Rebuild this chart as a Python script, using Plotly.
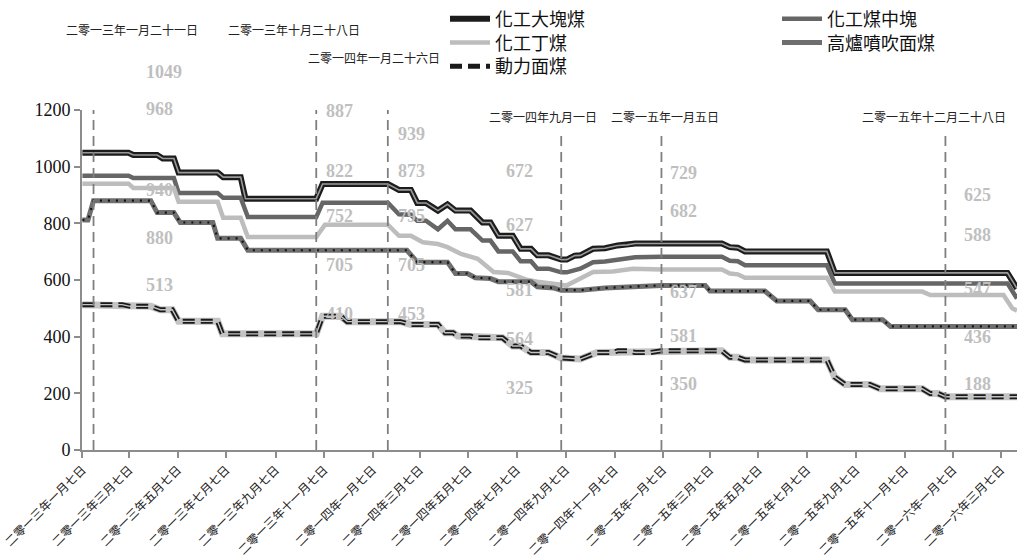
import plotly.graph_objects as go

# ---- price series (yuan / ton) ----
lump_dates = ["2013-01-07", "2013-01-21", "2013-03-06", "2013-03-12", "2013-04-11", "2013-04-18", "2013-05-02",
              "2013-05-08", "2013-06-26", "2013-07-03", "2013-07-25", "2013-07-31", "2013-10-28", "2013-11-05",
              "2014-01-26", "2014-02-09", "2014-02-24", "2014-03-04", "2014-03-15", "2014-03-30", "2014-04-11",
              "2014-04-21", "2014-05-10", "2014-05-25", "2014-06-04", "2014-06-14", "2014-07-02", "2014-07-12",
              "2014-07-25", "2014-08-02", "2014-08-16", "2014-09-01", "2014-09-08", "2014-09-18", "2014-09-25",
              "2014-10-11", "2014-10-26", "2014-11-11", "2014-11-23", "2014-12-03", "2015-01-05", "2015-03-22",
              "2015-04-01", "2015-04-11", "2015-04-20", "2015-08-01", "2015-08-11", "2015-12-28", "2016-03-15",
              "2016-03-27"]
lump_vals = [1049, 1049, 1049, 1041, 1041, 1029, 1029,
             979, 979, 963, 963, 887, 887, 939,
             939, 918, 918, 872, 872, 845, 867,
             845, 845, 803, 803, 756, 756, 710,
             710, 687, 687, 672, 672, 686, 687,
             710, 712, 722, 724, 729, 729, 729,
             716, 714, 701, 701, 625, 625, 625,
             570]

mid_dates = ["2013-01-07", "2013-01-21", "2013-03-06", "2013-03-12", "2013-05-02", "2013-05-08", "2013-06-26",
             "2013-07-03", "2013-07-25", "2013-08-03", "2013-10-28", "2013-11-05", "2014-01-26", "2014-02-09",
             "2014-02-24", "2014-03-04", "2014-03-15", "2014-03-30", "2014-04-11", "2014-04-21", "2014-05-10",
             "2014-05-25", "2014-06-04", "2014-06-14", "2014-07-02", "2014-07-12", "2014-07-25", "2014-08-02",
             "2014-08-16", "2014-09-01", "2014-09-08", "2014-09-25", "2014-10-11", "2014-10-26", "2014-11-11",
             "2014-11-23", "2014-12-03", "2015-01-05", "2015-03-22", "2015-04-01", "2015-04-11", "2015-04-20",
             "2015-08-01", "2015-08-11", "2015-12-28", "2016-03-15", "2016-03-27"]
mid_vals = [968, 968, 968, 960, 960, 907, 907,
            890, 890, 822, 822, 873, 873, 832,
            830, 809, 809, 779, 809, 779, 779,
            739, 739, 701, 701, 666, 666, 640,
            640, 627, 627, 640, 663, 665, 673,
            675, 680, 682, 682, 668, 666, 652,
            652, 588, 588, 588, 535]

pea_dates = ["2013-01-07", "2013-01-21", "2013-03-06", "2013-03-12", "2013-05-02", "2013-05-08", "2013-06-26",
             "2013-07-03", "2013-07-25", "2013-08-03", "2013-10-28", "2013-11-08", "2014-01-26", "2014-02-09",
             "2014-02-24", "2014-03-11", "2014-03-30", "2014-04-11", "2014-04-28", "2014-05-19", "2014-06-08",
             "2014-06-26", "2014-07-21", "2014-08-02", "2014-09-01", "2014-09-08", "2014-09-25", "2014-10-11",
             "2014-11-05", "2014-11-30", "2015-01-05", "2015-03-22", "2015-04-01", "2015-04-11", "2015-04-20",
             "2015-08-01", "2015-08-11", "2015-11-29", "2015-12-09", "2015-12-28", "2016-03-10", "2016-03-21",
             "2016-03-27"]
pea_vals = [940, 940, 940, 925, 925, 876, 876,
            820, 820, 752, 752, 795, 795, 756,
            756, 733, 727, 716, 692, 675, 628,
            625, 600, 594, 581, 581, 605, 628,
            630, 640, 637, 637, 623, 620, 608,
            608, 559, 559, 547, 547, 547, 500,
            492]

pci_dates = ["2013-01-07", "2013-01-14", "2013-01-21", "2013-04-03", "2013-04-11", "2013-05-02", "2013-05-10",
             "2013-06-20", "2013-06-26", "2013-07-25", "2013-08-03", "2013-10-28", "2014-01-26", "2014-02-19",
             "2014-03-04", "2014-04-11", "2014-04-21", "2014-05-06", "2014-05-16", "2014-06-04", "2014-06-14",
             "2014-07-25", "2014-08-02", "2014-08-22", "2014-09-01", "2014-09-25", "2014-10-26", "2014-11-23",
             "2015-01-05", "2015-03-01", "2015-03-07", "2015-05-15", "2015-05-30", "2015-07-11", "2015-07-21",
             "2015-08-24", "2015-09-02", "2015-10-10", "2015-10-20", "2015-12-28", "2016-03-27"]
pci_vals = [812, 812, 880, 880, 838, 838, 803,
            803, 747, 747, 705, 705, 705, 705,
            663, 663, 623, 623, 608, 605, 594,
            594, 576, 572, 564, 564, 572, 576,
            581, 581, 561, 561, 526, 526, 495,
            495, 460, 460, 436, 436, 436]

steam_dates = ["2013-01-07", "2013-01-21", "2013-02-26", "2013-03-08", "2013-04-03", "2013-04-15", "2013-04-30",
               "2013-05-08", "2013-06-26", "2013-07-02", "2013-10-28", "2013-11-05", "2013-11-28", "2013-12-06",
               "2014-01-26", "2014-02-11", "2014-02-24", "2014-03-30", "2014-04-08", "2014-04-18", "2014-04-24",
               "2014-05-10", "2014-05-16", "2014-06-19", "2014-07-02", "2014-07-12", "2014-07-25", "2014-08-16",
               "2014-09-01", "2014-09-25", "2014-10-16", "2014-11-05", "2014-11-11", "2014-11-23", "2014-12-03",
               "2014-12-22", "2015-01-05", "2015-03-22", "2015-04-01", "2015-04-11", "2015-04-20", "2015-08-01",
               "2015-08-11", "2015-08-24", "2015-09-24", "2015-10-07", "2015-11-29", "2015-12-09", "2015-12-19",
               "2015-12-28", "2016-03-27"]
steam_vals = [513, 513, 513, 507, 507, 495, 495,
              454, 454, 410, 410, 472, 472, 453,
              453, 453, 443, 443, 414, 414, 402,
              402, 396, 396, 367, 367, 344, 344,
              325, 321, 344, 344, 350, 350, 344,
              344, 350, 350, 327, 327, 318, 318,
              257, 231, 231, 216, 216, 199, 199,
              188, 188]

# ---- price-adjustment events ----
event_dates = ["2013-01-21", "2013-10-28", "2014-01-26", "2014-09-01", "2015-01-05", "2015-12-28"]
event_names = ["二零一三年一月二十一日", "二零一三年十月二十八日", "二零一四年一月二十六日",
               "二零一四年九月一日", "二零一五年一月五日", "二零一五年十二月二十八日"]

# ---- x-axis ticks ----
tick_dates = ["2013-01-07", "2013-03-07", "2013-05-07", "2013-07-07", "2013-09-07", "2013-11-07",
              "2014-01-07", "2014-03-07", "2014-05-07", "2014-07-07", "2014-09-07", "2014-11-07",
              "2015-01-07", "2015-03-07", "2015-05-07", "2015-07-07", "2015-09-07", "2015-11-07",
              "2016-01-07", "2016-03-07"]
tick_texts = ["二零一三年一月七日", "二零一三年三月七日", "二零一三年五月七日", "二零一三年七月七日",
              "二零一三年九月七日", "二零一三年十一月七日", "二零一四年一月七日", "二零一四年三月七日",
              "二零一四年五月七日", "二零一四年七月七日", "二零一四年九月七日", "二零一四年十一月七日",
              "二零一五年一月七日", "二零一五年三月七日", "二零一五年五月七日", "二零一五年七月七日",
              "二零一五年九月七日", "二零一五年十一月七日", "二零一六年一月七日", "二零一六年三月七日"]

CJK = "Noto Sans CJK TC"
SERIF = "Liberation Serif"

W, H = 1017, 557
M_L, M_R, M_T, M_B = 82, 0, 106, 107
PLOT_W = W - M_L - M_R
PLOT_H = H - M_T - M_B


def paper_x(px):
    return (px - M_L) / PLOT_W


def paper_y(px):
    return (H - M_B - px) / PLOT_H


fig = go.Figure()


def add_layers(name, xs, ys, layers, legend_idx, legend_id):
    for i, (color, width, dash) in enumerate(layers):
        fig.add_trace(go.Scatter(
            x=xs, y=ys, mode="lines", name=name,
            showlegend=(i == legend_idx), legend=legend_id,
            line=dict(color=color, width=width, dash=dash, shape="linear"),
            hoverinfo="skip",
        ))


add_layers("化工大塊煤", lump_dates, lump_vals,
           [("#1c1c1c", 6, "solid"), ("#9a9a9a", 1.6, "solid")], 0, "legend")
add_layers("化工煤中塊", mid_dates, mid_vals,
           [("#666666", 4.5, "solid")], 0, "legend2")
add_layers("化工丁煤", pea_dates, pea_vals,
           [("#bdbdbd", 4.5, "solid")], 0, "legend3")
add_layers("高爐噴吹面煤", pci_dates, pci_vals,
           [("#6e6e6e", 5, "solid"), ("#111111", 2.2, "2px,6px")], 0, "legend4")
add_layers("動力面煤", steam_dates, steam_vals,
           [("#c4c4c4", 7, "solid"), ("#1a1a1a", 5, "12px,6px"), ("#c4c4c4", 1.4, "solid")], 1, "legend5")

# event lines
line_tops = [1350, 1350, 1350, 1117, 1117, 1117]
shapes = []
for d, top in zip(event_dates, line_tops):
    shapes.append(dict(type="line", xref="x", yref="y", x0=d, x1=d, y0=0, y1=top,
                       line=dict(color="#7f7f7f", width=1.8, dash="10px,6px"), layer="above"))

annotations = []
# event captions
caption_shift = [38, -22, -14, -18, 4, -11]
caption_px = [25, 25, 53, 113, 113, 113]
for d, txt, dx, py in zip(event_dates, event_names, caption_shift, caption_px):
    annotations.append(dict(x=d, xref="x", y=paper_y(py), yref="paper", text=txt, showarrow=False,
                            xanchor="center", yanchor="middle", xshift=dx,
                            font=dict(family=CJK, size=12, color="#222222")))

# price labels at each event, read from the series themselves
series_lookup = [dict(zip(lump_dates, lump_vals)), dict(zip(mid_dates, mid_vals)),
                 dict(zip(pea_dates, pea_vals)), dict(zip(pci_dates, pci_vals)),
                 dict(zip(steam_dates, steam_vals))]
label_shift = [50, 8, 8, -57, 7, 17]
label_px = [
    [68, 105, 187, 235, 283],
    [107, 168, 213, 263, 312],
    [130, 168, 213, 263, 312],
    [168, 222, 288, 338, 387],
    [170, 208, 290, 335, 383],
    [192, 232, 287, 336, 383],
]
for d, dx, rows in zip(event_dates, label_shift, label_px):
    for lookup, py in zip(series_lookup, rows):
        annotations.append(dict(x=d, xref="x", y=paper_y(py), yref="paper", text=str(lookup[d]),
                                showarrow=False, xanchor="left", yanchor="middle", xshift=dx,
                                font=dict(family=SERIF, size=18, color="#bfbfbf", weight="bold")))

# one single-entry legend per series so the key sits in a two-column grid
legend_style = dict(orientation="v", yanchor="middle", xanchor="left", traceorder="normal",
                    font=dict(family=CJK, size=18, color="#111111"),
                    bgcolor="rgba(0,0,0,0)", itemwidth=40, tracegroupgap=0)
legend_spots = {"legend": (445, 14), "legend2": (777, 14), "legend3": (445, 38),
                "legend4": (777, 38), "legend5": (445, 62)}
legend_layout = {key: dict(x=paper_x(px), y=paper_y(py), **legend_style)
                 for key, (px, py) in legend_spots.items()}

fig.update_layout(
    width=W, height=H,
    margin=dict(l=M_L, r=M_R, t=M_T, b=M_B, pad=0),
    paper_bgcolor="white", plot_bgcolor="white",
    showlegend=True,
    **legend_layout,
    xaxis=dict(type="date", range=["2013-01-06 12:00", "2016-03-27"], automargin=False,
               tickmode="array", tickvals=tick_dates, ticktext=tick_texts, tickangle=-45,
               tickfont=dict(family=CJK, size=12, color="#222222"),
               showgrid=False, zeroline=False, showline=True, linecolor="#8c8c8c", linewidth=2,
               ticks="outside", ticklen=6, tickwidth=2, tickcolor="#8c8c8c"),
    yaxis=dict(range=[0, 1200], tickmode="array", tickvals=[0, 200, 400, 600, 800, 1000, 1200],
               automargin=False,
               tickfont=dict(family=SERIF, size=18, color="#111111"),
               showgrid=False, zeroline=False, showline=True, linecolor="#8c8c8c", linewidth=2,
               ticks="outside", ticklen=6, tickwidth=2, tickcolor="#8c8c8c"),
    shapes=shapes,
    annotations=annotations,
)

fig.write_html("out.html")
